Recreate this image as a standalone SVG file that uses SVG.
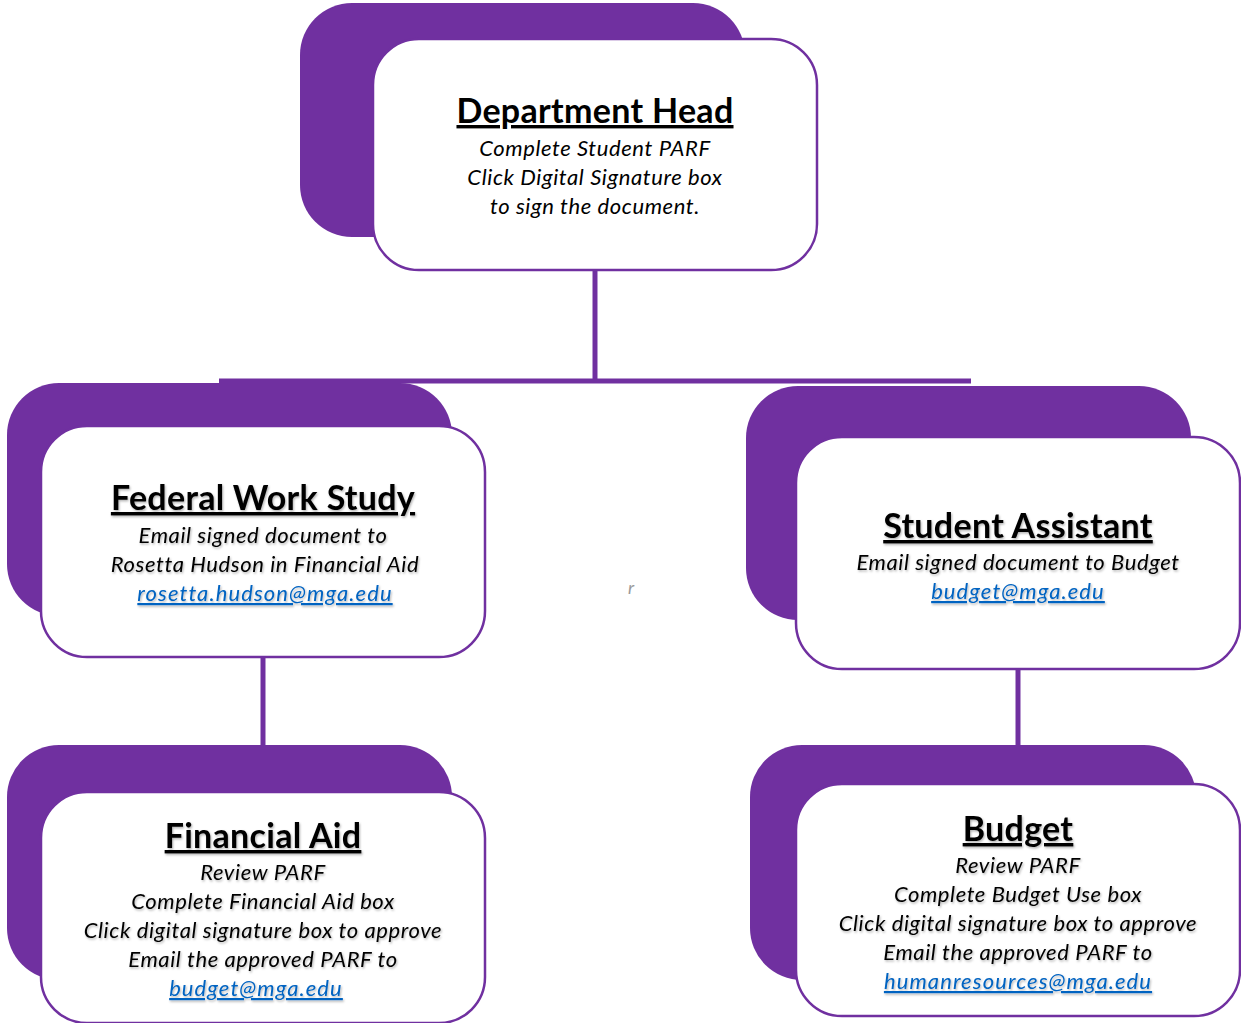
<svg xmlns="http://www.w3.org/2000/svg" width="1241" height="1023" viewBox="0 0 1241 1023">
  <style>
    .back { fill: #7030A0; }
    .front { fill: #ffffff; stroke: #7030A0; stroke-width: 2.5; }
    .wire { stroke: #7030A0; stroke-width: 5; fill: none; }
    .title { font-family: Lato, "Open Sans", sans-serif; font-weight: bold; font-size: 34px; letter-spacing: 0.3px; fill: #000; text-anchor: middle; text-decoration: underline; }
    .body { font-family: Lato, "Open Sans", sans-serif; font-style: italic; font-size: 22px; letter-spacing: 0.6px; fill: #000; text-anchor: middle; }
    .link { font-family: Lato, "Open Sans", sans-serif; font-style: italic; font-size: 22px; letter-spacing: 1.1px; fill: #0563C1; text-anchor: middle; text-decoration: underline; }
    .stray { font-family: Lato, sans-serif; font-style: italic; font-size: 18px; fill: #9a9a9a; }
  </style>
  <defs>
    <filter id="soft" x="-5%" y="-20%" width="110%" height="140%">
      <feDropShadow dx="1" dy="1.5" stdDeviation="1" flood-color="#000" flood-opacity="0.3"/>
    </filter>
  </defs>

  <!-- connectors -->
  <g id="connectors">
    <line class="wire" x1="595" y1="270" x2="595" y2="381"/>
    <line class="wire" x1="219" y1="381" x2="971" y2="381"/>
    <line class="wire" x1="263" y1="657" x2="263" y2="747"/>
    <line class="wire" x1="1018" y1="669" x2="1018" y2="747"/>
  </g>

  <!-- Department Head -->
  <g id="node-department-head">
    <rect class="back" x="300" y="3" width="445" height="234" rx="52"/>
    <rect class="front" x="373" y="39" width="444" height="231" rx="46"/>
    <text class="title" x="595" y="123">Department Head</text>
    <text class="body" x="595" y="156">Complete Student PARF</text>
    <text class="body" x="595" y="185">Click Digital Signature box</text>
    <text class="body" x="595" y="214">to sign the document.</text>
  </g>

  <!-- Federal Work Study -->
  <g id="node-federal-work-study">
    <rect class="back" x="7" y="383" width="445" height="233" rx="52"/>
    <rect class="front" x="41" y="426" width="444" height="231" rx="46"/>
    <g filter="url(#soft)">
      <text class="title" x="263" y="510">Federal Work Study</text>
      <text class="body" x="263" y="543">Email signed document to</text>
      <text class="body" x="265" y="572">Rosetta Hudson in Financial Aid</text>
      <text class="link" x="265" y="601">rosetta.hudson@mga.edu</text>
    </g>
  </g>

  <!-- Student Assistant -->
  <g id="node-student-assistant">
    <rect class="back" x="746" y="386" width="445" height="234" rx="52"/>
    <rect class="front" x="796" y="437" width="444" height="232" rx="46"/>
    <g filter="url(#soft)">
      <text class="title" x="1018" y="538">Student Assistant</text>
      <text class="body" x="1018" y="570">Email signed document to Budget</text>
      <text class="link" x="1018" y="599">budget@mga.edu</text>
    </g>
  </g>

  <!-- Financial Aid -->
  <g id="node-financial-aid">
    <rect class="back" x="7" y="745" width="445" height="235" rx="52"/>
    <rect class="front" x="41" y="792" width="444" height="231" rx="46"/>
    <g filter="url(#soft)">
      <text class="title" x="263" y="848">Financial Aid</text>
      <text class="body" x="263" y="880">Review PARF</text>
      <text class="body" x="263" y="909">Complete Financial Aid box</text>
      <text class="body" x="263" y="938">Click digital signature box to approve</text>
      <text class="body" x="263" y="967">Email the approved PARF to</text>
      <text class="link" x="256" y="996">budget@mga.edu</text>
    </g>
  </g>

  <!-- Budget -->
  <g id="node-budget">
    <rect class="back" x="750" y="745" width="446" height="235" rx="52"/>
    <rect class="front" x="796" y="784" width="444" height="232" rx="46"/>
    <g filter="url(#soft)">
      <text class="title" x="1018" y="841">Budget</text>
      <text class="body" x="1018" y="873">Review PARF</text>
      <text class="body" x="1018" y="902">Complete Budget Use box</text>
      <text class="body" x="1018" y="931">Click digital signature box to approve</text>
      <text class="body" x="1018" y="960">Email the approved PARF to</text>
      <text class="link" x="1018" y="989">humanresources@mga.edu</text>
    </g>
  </g>

  <text class="stray" x="628" y="594">r</text>
</svg>
